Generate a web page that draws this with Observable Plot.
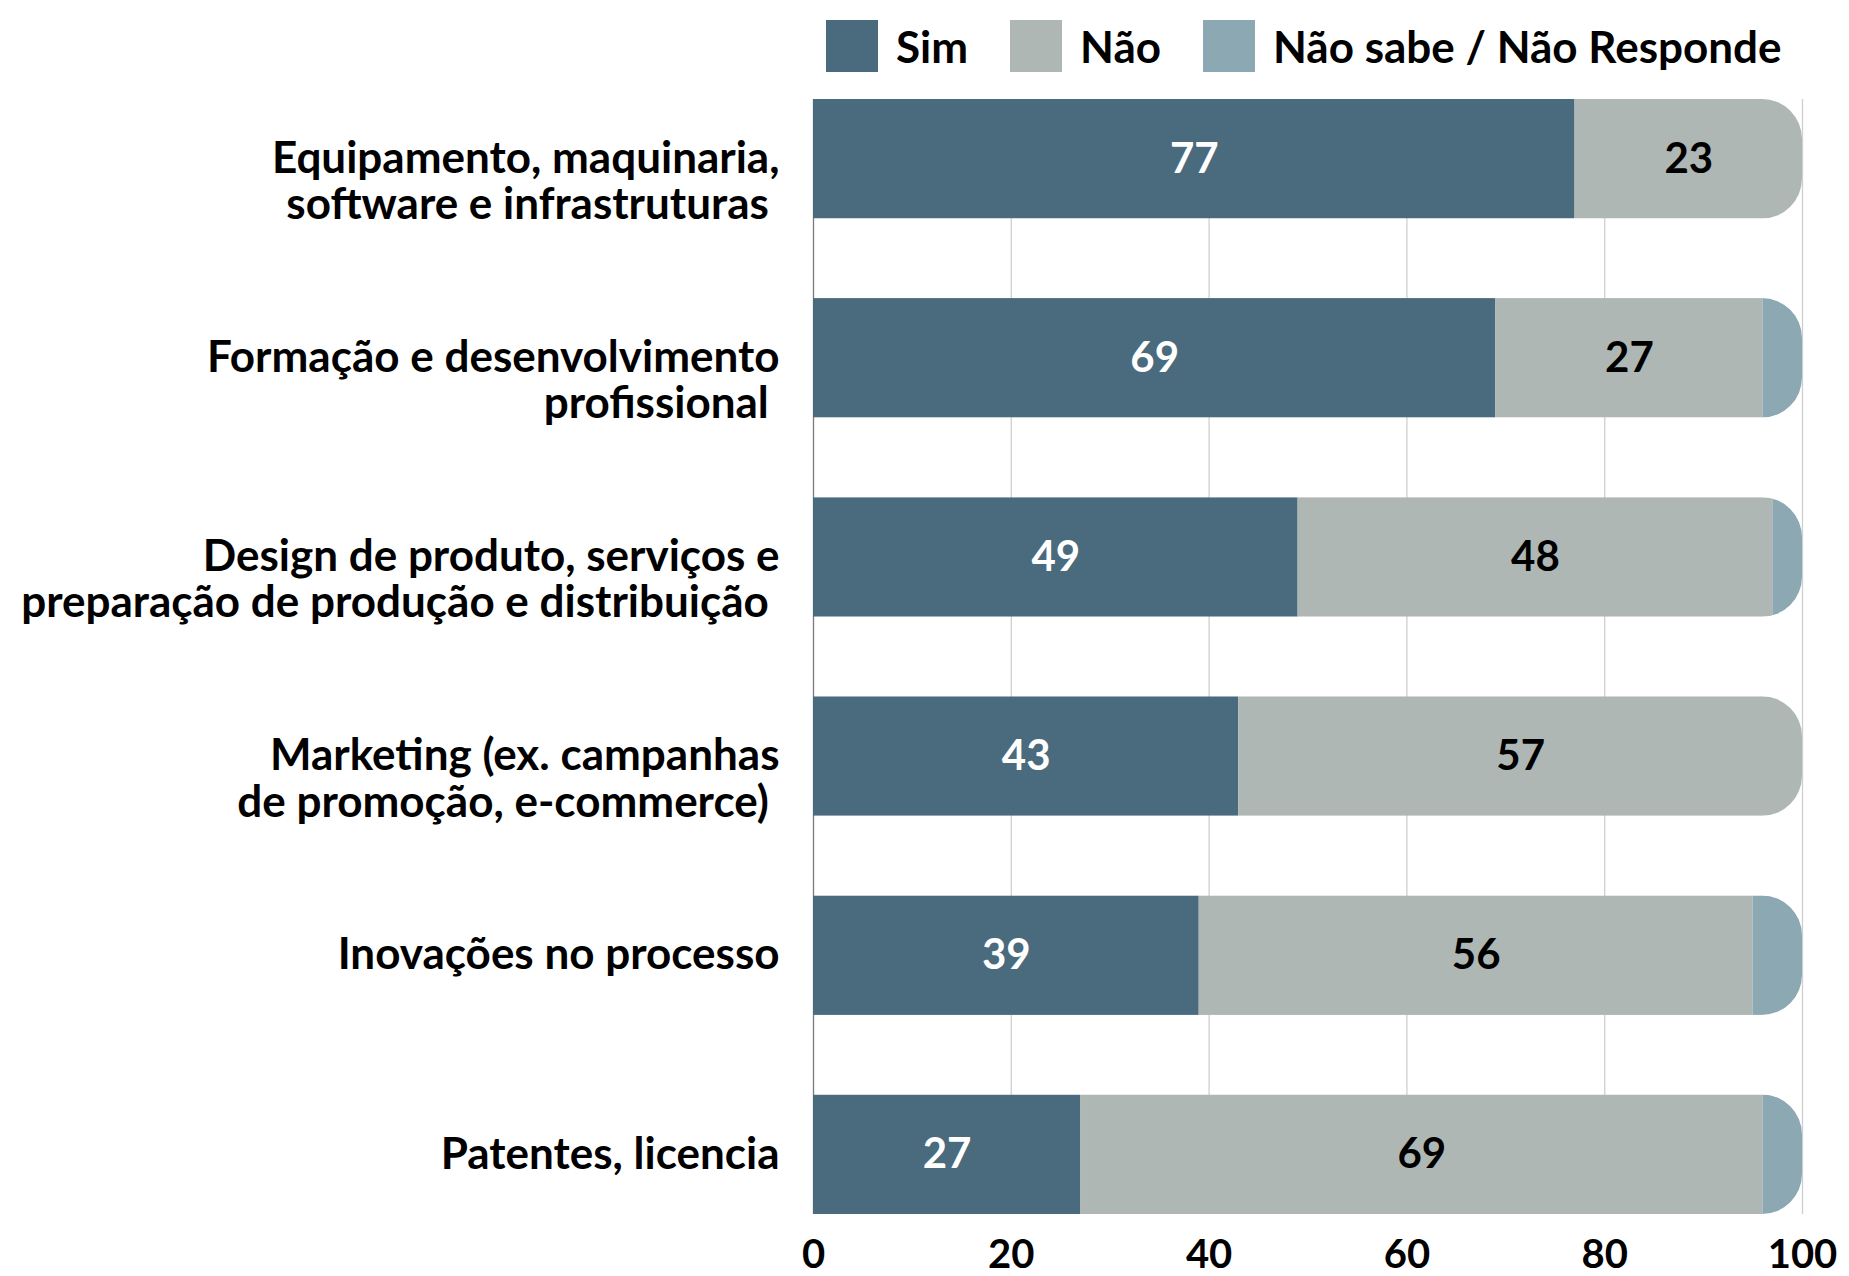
<!DOCTYPE html>
<html>
<head>
<meta charset="utf-8">
<script src="https://cdn.jsdelivr.net/npm/d3@7"></script>
<script src="https://cdn.jsdelivr.net/npm/@observablehq/plot@0.6"></script>
<style>
  html, body { margin: 0; padding: 0; background: #fff; }
  #legend { height: 90px; box-sizing: border-box; padding-top: 20px; padding-left: 826px;
            display: flex; align-items: flex-start; font-family: Lato, sans-serif; font-weight: 700;
            font-size: 44px; color: #000; }
  #legend .item { display: flex; align-items: center; margin-right: 42px; height: 52px; }
  #legend .sw { width: 52px; height: 52px; margin-right: 18px; }
  #chart svg { display: block; }
</style>
</head>
<body>
<div id="legend"></div>
<div id="chart"></div>
<script>
const categories = [
  "Equipamento, maquinaria,\nsoftware e infrastruturas\u00A0",
  "Formação e desenvolvimento\nprofissional\u00A0",
  "Design de produto, serviços e\npreparação de produção e distribuição\u00A0",
  "Marketing (ex. campanhas\nde promoção, e-commerce)\u00A0",
  "Inovações no processo",
  "Patentes, licencia"
];
const series = ["Sim", "Não", "Não sabe / Não Responde"];
const sim  = [77, 69, 49, 43, 39, 27];
const nao  = [23, 27, 48, 57, 56, 69];
const nsnr = [0, 4, 3, 0, 5, 4];
const colors = ["#4a6a7e", "#aeb7b4", "#8ba8b3"];
const xTicks = [0, 20, 40, 60, 80, 100];
const gridTicks = [20, 40, 60, 80, 100];

const seriesValues = [sim, nao, nsnr];
const rows = categories.flatMap((c, i) =>
  series.map((s, j) => ({category: c, series: s, value: seriesValues[j][i]}))
).filter(d => d.value > 0);
const totals = categories.map((c, i) => ({category: c, total: sim[i] + nao[i] + nsnr[i]}));

// legend
const legend = document.getElementById("legend");
series.forEach((s, j) => {
  const item = document.createElement("div");
  item.className = "item";
  const sw = document.createElement("div");
  sw.className = "sw";
  sw.style.background = colors[j];
  const lab = document.createElement("span");
  lab.textContent = s;
  item.appendChild(sw); item.appendChild(lab);
  legend.appendChild(item);
});

const font = "Lato, sans-serif";
const plot = Plot.plot({
  width: 1849,
  height: 1186,
  marginLeft: 813,
  marginRight: 47,
  marginTop: 9,
  marginBottom: 62,
  style: {fontFamily: font, background: "#fff"},
  x: {domain: [0, 100], axis: null},
  y: {domain: categories, paddingInner: 0.4, paddingOuter: 0, round: false, axis: null},
  color: {domain: series, range: colors},
  marks: [
    Plot.ruleX(gridTicks, {stroke: "#cfcfcf", strokeWidth: 1.3}),
    Plot.ruleX([0], {stroke: "#7a7a7a", strokeWidth: 1.3}),
    Plot.barX(totals, {y: "category", x1: () => 0, x2: "total", rx: 40, insetLeft: -80, fill: "black"}),
    Plot.barX(rows, Plot.stackX({x: "value", y: "category", fill: "series"})),
    Plot.text(rows, Plot.stackX({x: "value", y: "category", z: "series",
      text: d => d.series === "Sim" ? String(d.value) : "",
      fill: "white", fontSize: 42, fontWeight: 700, fontFamily: font})),
    Plot.text(rows, Plot.stackX({x: "value", y: "category", z: "series",
      text: d => d.series === "Não" ? String(d.value) : "",
      fill: "black", fontSize: 42, fontWeight: 700, fontFamily: font})),
    Plot.axisY({label: null, tickSize: 0, tickPadding: 34, fontSize: 44, fontWeight: 700, fontFamily: font,
      lineAnchor: "top", lineHeight: 1.05, dy: -19, fill: "black"}),
    Plot.axisX({label: null, ticks: xTicks, tickSize: 0, tickPadding: 25, fontSize: 40, fontWeight: 700,
      fontFamily: font, fill: "black"})
  ]
});
document.getElementById("chart").appendChild(plot);

// Clip the stacked segments with the rounded total bars (rounded right end only)
const svg = plot.tagName.toLowerCase() === "svg" ? plot : plot.querySelector("svg");
const ns = "http://www.w3.org/2000/svg";
const barGroups = svg.querySelectorAll('g[aria-label="bar"]');
const clipG = barGroups[0];
const segG = barGroups[1];
if (clipG && segG) {
  const defs = document.createElementNS(ns, "defs");
  const cp = document.createElementNS(ns, "clipPath");
  cp.setAttribute("id", "roundclip");
  const tr = clipG.getAttribute("transform");
  clipG.querySelectorAll("rect").forEach(r => {
    const rr = r.cloneNode(true);
    if (tr) rr.setAttribute("transform", tr);
    cp.appendChild(rr);
  });
  defs.appendChild(cp);
  svg.insertBefore(defs, svg.firstChild);
  clipG.remove();
  segG.setAttribute("clip-path", "url(#roundclip)");
}
</script>
</body>
</html>
